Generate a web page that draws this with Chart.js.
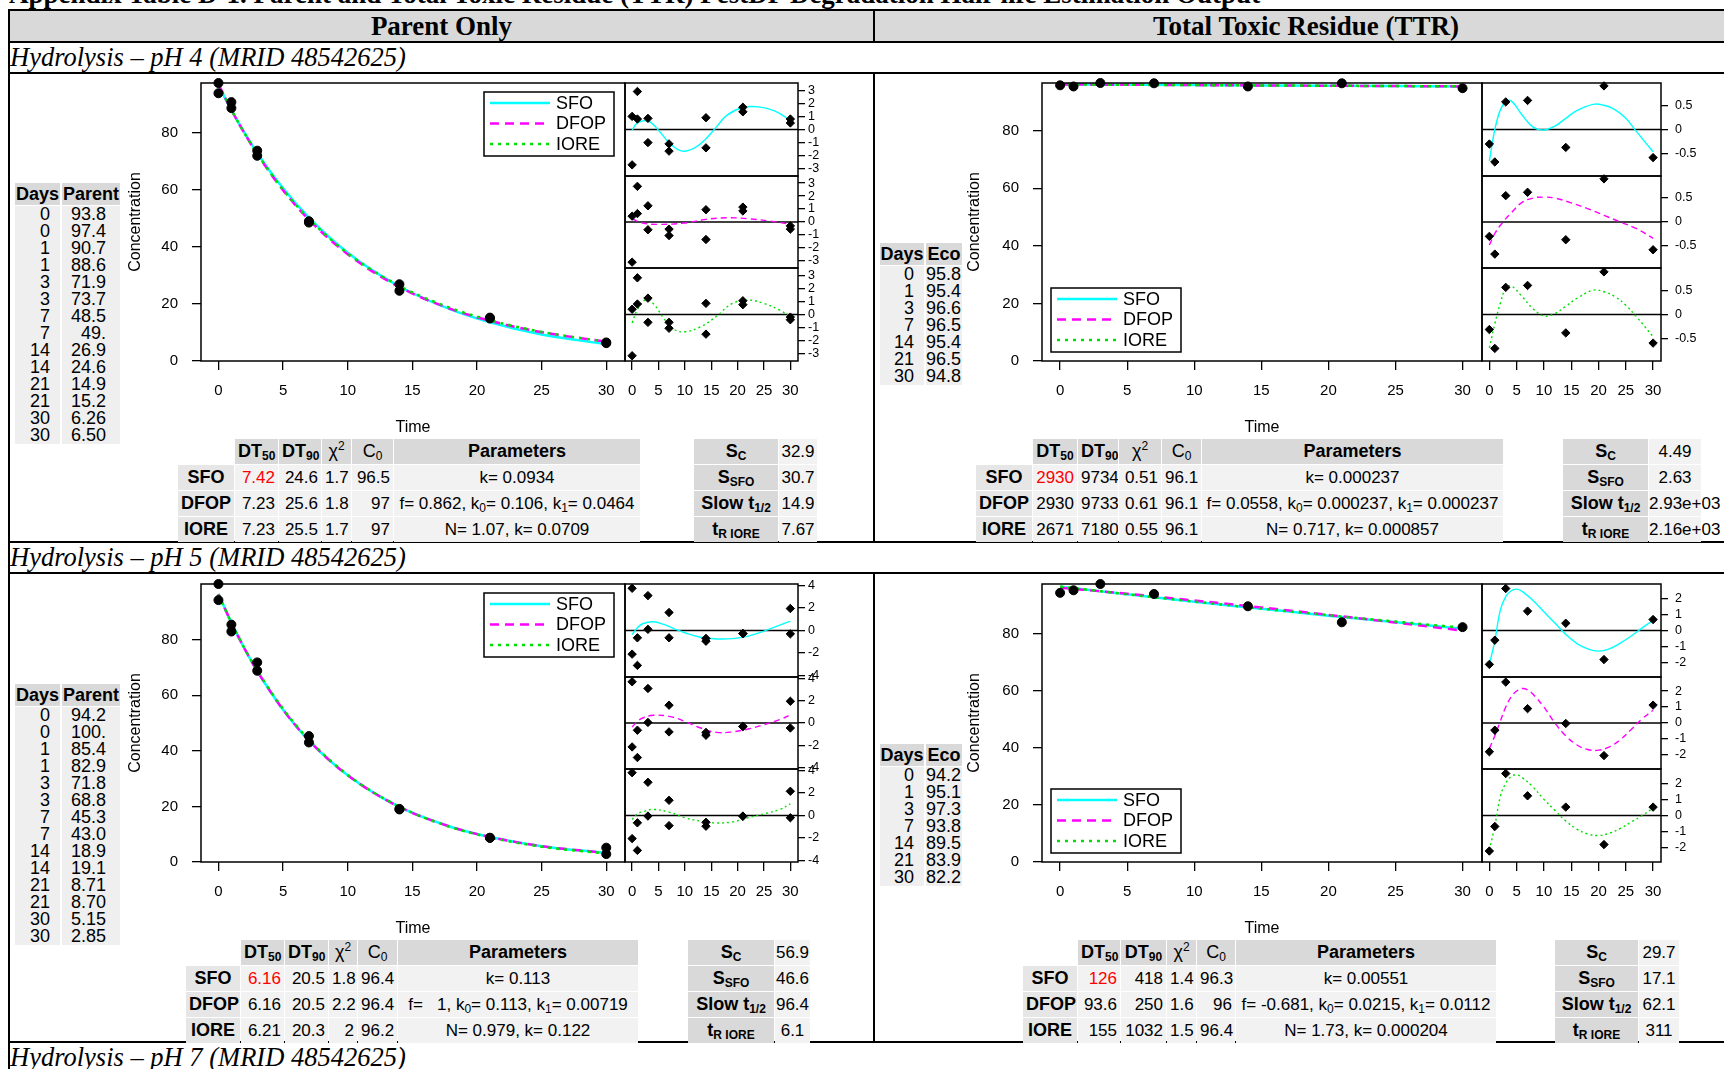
<!DOCTYPE html>
<html>
<head>
<meta charset="utf-8">
<title>Parent and TTR degradation half-life output</title>
<script src="https://cdn.jsdelivr.net/npm/chart.js@4.4.1/dist/chart.umd.min.js"></script>
<style>
  html, body { margin: 0; padding: 0; background: #fff; }
  #page { position: relative; width: 1724px; height: 1069px; overflow: hidden; font-family: "Liberation Sans", Arial, sans-serif; color: #000; }
  .rule { position: absolute; background: #000; }
  .band { position: absolute; background: #d9d9d9; }
  .serif { position: absolute; font-family: "Liberation Serif", "Times New Roman", serif; white-space: nowrap; }
  .doc-title { left: 9px; top: -19px; font-size: 27px; font-weight: bold; line-height: 27px; }
  .col-head { top: 11px; height: 30px; line-height: 30px; font-size: 27px; font-weight: bold; text-align: center; }
  .study { left: 10px; height: 29px; font-size: 26.5px; font-style: italic; line-height: 29px; }
  .cell { position: absolute; box-sizing: border-box; white-space: nowrap; }
  .dhead { background: #d9d9d9; font-weight: bold; font-size: 18px; line-height: 22px; height: 22px; text-align: center; }
  .dbody { background: #efefef; font-size: 18px; line-height: 17px; text-align: right; }
  table.stats { position: absolute; border-collapse: separate; border-spacing: 1px; table-layout: fixed; font-size: 17px; }
  table.stats th, table.stats td { height: 25px; padding: 0 3px; white-space: nowrap; overflow: hidden; box-sizing: border-box; }
  table.stats th { background: #d9d9d9; font-size: 18px; font-weight: bold; text-align: center; }
  table.stats th.model { background: #e6e6e6; }
  table.stats th.thin { font-weight: normal; }
  table.stats td { background: #f2f2f2; text-align: right; }
  table.stats td.par { text-align: center; padding: 0 1px; }
  table.stats td.ctr { text-align: center; padding: 0; overflow: visible; }
  table.stats td.blank { background: transparent; }
  table.stats .red { color: #ff0000; }
  table.stats sub { font-size: 12px; vertical-align: -3px; line-height: 0; }
  table.stats sup { font-size: 12px; vertical-align: 7px; line-height: 0; }
  canvas { position: absolute; }
</style>
</head>
<body>
<div id="page"></div>
<script>
// ---------------------------------------------------------------------------
// Data
// ---------------------------------------------------------------------------

const X_MIN = -1.35, X_MAX = 31.45;
const timeTicks = [0, 5, 10, 15, 20, 25, 30];
const concTicks = [0, 20, 40, 60, 80];

// pH 4, parent
const ph4ParentDays = [0, 0, 1, 1, 3, 3, 7, 7, 14, 14, 21, 21, 30, 30];
const ph4ParentConc = ['93.8', '97.4', '90.7', '88.6', '71.9', '73.7', '48.5', '49.', '26.9', '24.6', '14.9', '15.2', '6.26', '6.50'];
const ph4ParentFitX = [0, 1, 2, 3, 5, 7, 10, 14, 18, 21, 25, 30];
const ph4ParentSFO = [96.5, 87.9, 80.1, 72.9, 60.5, 50.2, 37.9, 26.1, 18.0, 13.6, 9.3, 5.9];
const ph4ParentDFOP = [97, 88.0, 79.9, 72.5, 59.8, 49.5, 37.4, 25.9, 18.2, 14.1, 10.1, 6.8];
const ph4ParentIORE = [97, 88.0, 79.9, 72.6, 60.0, 49.8, 37.7, 26.3, 18.5, 14.3, 10.2, 6.75];
const ph4ParentResSFO = [-2.7, 1.0, 2.9, 0.8, -1.0, 0.85, -1.65, -1.1, 0.9, -1.4, 1.35, 1.7, 0.5, 0.8];
const ph4ParentResDFOP = [-3.1, 0.45, 2.75, 0.65, -0.6, 1.25, -1.05, -0.55, 0.95, -1.35, 0.85, 1.15, -0.55, -0.3];
const ph4ParentResIORE = [-3.15, 0.4, 2.8, 0.8, -0.6, 1.25, -1.05, -0.6, 0.85, -1.5, 0.75, 1.05, -0.4, -0.2];
const ph4ParentSmSFOx = [0, 1, 3, 5, 7, 9.5, 12, 14, 16, 18, 21, 24, 27, 30];
const ph4ParentSmSFOy = [-0.05, 0.5, 0.65, -0.05, -1.0, -1.65, -1.37, -0.7, 0.2, 1.1, 1.68, 1.73, 1.43, 0.7];
const ph4ParentSmDFOPx = [0, 2, 5, 10, 14, 18, 22, 26, 30];
const ph4ParentSmDFOPy = [0.25, -0.08, -0.18, -0.08, 0.2, 0.33, 0.25, 0.08, -0.18];
const ph4ParentSmIOREx = [0, 1, 2.5, 4, 6, 8, 10, 13, 16, 19, 22, 25, 28, 30];
const ph4ParentSmIOREy = [-0.64, 0.38, 1.1, 0.84, -0.3, -1.15, -1.32, -0.94, -0.13, 0.84, 1.1, 0.84, 0.33, -0.18];
const ph4ParentStats = [
  ['7.42', '24.6', '1.7', '96.5', 'k= 0.0934'],
  ['7.23', '25.6', '1.8', '97', 'f= 0.862, k<sub>0</sub>= 0.106, k<sub>1</sub>= 0.0464'],
  ['7.23', '25.5', '1.7', '97', 'N= 1.07, k= 0.0709']
];
const ph4ParentExtra = ['32.9', '30.7', '14.9', '7.67'];

// pH 4, total toxic residue
const ph4TtrDays = [0, 1, 3, 7, 14, 21, 30];
const ph4TtrConc = ['95.8', '95.4', '96.6', '96.5', '95.4', '96.5', '94.8'];
const ph4TtrFitX = [0, 10, 20, 30];
const ph4TtrSFO = [96.1, 95.87, 95.65, 95.42];
const ph4TtrDFOP = [96.1, 95.87, 95.65, 95.42];
const ph4TtrIORE = [96.1, 95.87, 95.65, 95.42];
const ph4TtrResSFO = [-0.3, -0.67, 0.57, 0.6, -0.37, 0.9, -0.58];
const ph4TtrResDFOP = [-0.3, -0.67, 0.55, 0.62, -0.37, 0.9, -0.58];
const ph4TtrResIORE = [-0.31, -0.7, 0.56, 0.6, -0.38, 0.88, -0.59];
const ph4TtrSmSFOx = [0, 1, 2, 3, 4, 6, 8, 10, 12, 14, 16, 19, 21, 23, 25, 27, 30];
const ph4TtrSmSFOy = [-0.65, 0, 0.4, 0.57, 0.59, 0.3, 0.05, -0.01, 0.07, 0.23, 0.39, 0.52, 0.5, 0.41, 0.23, -0.05, -0.46];
const ph4TtrSmDFOPx = [0, 1, 2.5, 4, 6, 8, 10, 12, 15, 18, 21, 24, 27, 30];
const ph4TtrSmDFOPy = [-0.48, -0.24, 0, 0.19, 0.41, 0.5, 0.52, 0.5, 0.4, 0.28, 0.14, 0, -0.14, -0.34];
const ph4TtrSmIOREx = [0, 1, 2, 3, 4, 6, 8, 10, 12, 14, 16, 19, 21, 23, 25, 27, 30];
const ph4TtrSmIOREy = [-0.69, -0.19, 0.23, 0.54, 0.59, 0.37, 0.12, -0.03, 0.02, 0.17, 0.33, 0.5, 0.47, 0.37, 0.19, -0.05, -0.46];
const ph4TtrStats = [
  ['2930', '9734', '0.51', '96.1', 'k= 0.000237'],
  ['2930', '9733', '0.61', '96.1', 'f= 0.0558, k<sub>0</sub>= 0.000237, k<sub>1</sub>= 0.000237'],
  ['2671', '7180', '0.55', '96.1', 'N= 0.717, k= 0.000857']
];
const ph4TtrExtra = ['4.49', '2.63', '2.93e+03', '2.16e+03'];

// pH 5, parent
const ph5ParentDays = [0, 0, 1, 1, 3, 3, 7, 7, 14, 14, 21, 21, 30, 30];
const ph5ParentConc = ['94.2', '100.', '85.4', '82.9', '71.8', '68.8', '45.3', '43.0', '18.9', '19.1', '8.71', '8.70', '5.15', '2.85'];
const ph5ParentFitX = [0, 1, 2, 3, 5, 7, 10, 14, 18, 21, 25, 30];
const ph5ParentSFO = [96.4, 86.1, 76.9, 68.7, 54.8, 43.7, 31.2, 19.8, 12.6, 9.0, 5.7, 3.25];
const ph5ParentDFOP = [96.4, 86.1, 76.9, 68.7, 54.8, 43.7, 31.2, 19.8, 12.6, 9.0, 5.7, 3.25];
const ph5ParentIORE = [96.2, 86.1, 77.0, 68.9, 55.1, 44.0, 31.3, 19.9, 12.5, 8.85, 5.5, 3.06];
const ph5ParentResSFO = [-2.1, 3.75, -0.65, -3.1, 3.1, 0.1, 1.6, -0.65, -0.95, -0.7, -0.27, -0.28, 1.95, -0.3];
const ph5ParentResDFOP = [-2.15, 3.7, -0.65, -3.1, 3.1, 0.05, 1.6, -0.8, -1.1, -0.85, -0.3, -0.32, 1.95, -0.45];
const ph5ParentResIORE = [-2.05, 3.8, -0.65, -3.1, 2.95, -0.05, 1.35, -0.9, -0.95, -0.6, -0.05, -0.07, 2.15, -0.2];
const ph5ParentSmSFOx = [0, 1, 2, 4, 6, 8, 10, 13, 16, 19, 22, 25, 28, 30];
const ph5ParentSmSFOy = [-0.36, 0.24, 0.6, 0.78, 0.54, 0.15, -0.2, -0.6, -0.75, -0.72, -0.5, -0.06, 0.48, 0.84];
const ph5ParentSmDFOPx = [0, 1, 2, 4, 7, 10, 13, 16, 19, 22, 25, 28, 30];
const ph5ParentSmDFOPy = [-0.36, 0.15, 0.45, 0.69, 0.6, 0.15, -0.45, -0.84, -0.8, -0.54, -0.15, 0.3, 0.75];
const ph5ParentSmIOREx = [0, 1, 2, 4, 7, 10, 13, 16, 19, 22, 25, 28, 30];
const ph5ParentSmIOREy = [-0.36, 0.15, 0.33, 0.54, 0.3, -0.2, -0.5, -0.66, -0.57, -0.2, 0.15, 0.54, 1.04];
const ph5ParentStats = [
  ['6.16', '20.5', '1.8', '96.4', 'k= 0.113'],
  ['6.16', '20.5', '2.2', '96.4', 'f= &nbsp; 1, k<sub>0</sub>= 0.113, k<sub>1</sub>= 0.00719'],
  ['6.21', '20.3', '2', '96.2', 'N= 0.979, k= 0.122']
];
const ph5ParentExtra = ['56.9', '46.6', '96.4', '6.1'];

// pH 5, total toxic residue
const ph5TtrDays = [0, 1, 3, 7, 14, 21, 30];
const ph5TtrConc = ['94.2', '95.1', '97.3', '93.8', '89.5', '83.9', '82.2'];
const ph5TtrFitX = [0, 5, 10, 15, 20, 25, 30];
const ph5TtrSFO = [96.3, 93.7, 91.1, 88.65, 86.2, 83.9, 81.6];
const ph5TtrDFOP = [96, 93.9, 91.5, 89.1, 86.5, 83.8, 81.0];
const ph5TtrIORE = [96.4, 93.7, 91.15, 88.7, 86.4, 84.15, 82.0];
const ph5TtrResSFO = [-2.1, -0.6, 2.6, 1.2, 0.45, -1.8, 0.68];
const ph5TtrResDFOP = [-1.8, -0.45, 2.56, 0.9, -0.03, -2.04, 1.12];
const ph5TtrResIORE = [-2.2, -0.68, 2.6, 1.22, 0.52, -1.8, 0.52];
const ph5TtrSmSFOx = [0, 1, 2, 3, 4, 5, 6, 8, 10, 12, 14, 16, 18, 20, 22, 24, 26, 28, 30];
const ph5TtrSmSFOy = [-2.1, -0.64, 1.26, 2.1, 2.46, 2.56, 2.42, 1.86, 1.16, 0.46, -0.24, -0.8, -1.14, -1.28, -1.14, -0.78, -0.34, 0.16, 0.62];
const ph5TtrSmDFOPx = [0, 1, 2, 3, 4, 5, 6, 7, 8, 10, 12, 14, 16, 18, 20, 22, 24, 26, 28, 30];
const ph5TtrSmDFOPy = [-1.6, -0.8, 0.1, 1.0, 1.64, 2.0, 2.16, 2.08, 1.8, 1.0, 0, -0.8, -1.36, -1.66, -1.7, -1.5, -1.04, -0.4, 0.26, 0.8];
const ph5TtrSmIOREx = [0, 1, 2, 3, 4, 5, 6, 8, 10, 12, 14, 16, 18, 20, 22, 24, 26, 28, 30];
const ph5TtrSmIOREy = [-2.14, -0.64, 1.16, 2.0, 2.42, 2.52, 2.36, 1.76, 1.0, 0.32, -0.34, -0.84, -1.14, -1.24, -1.1, -0.8, -0.4, 0, 0.46];
const ph5TtrStats = [
  ['126', '418', '1.4', '96.3', 'k= 0.00551'],
  ['93.6', '250', '1.6', '96', 'f= -0.681, k<sub>0</sub>= 0.0215, k<sub>1</sub>= 0.0112'],
  ['155', '1032', '1.5', '96.4', 'N= 1.73, k= 0.000204']
];
const ph5TtrExtra = ['29.7', '17.1', '62.1', '311'];

const modelNames = ['SFO', 'DFOP', 'IORE'];
const statHead = ['DT<sub>50</sub>', 'DT<sub>90</sub>', '&chi;<sup>2</sup>', 'C<sub>0</sub>', 'Parameters'];
const extraHead = ['S<sub>C</sub>', 'S<sub>SFO</sub>', 'Slow t<sub>1/2</sub>', 't<sub>R IORE</sub>'];

const CYAN = '#00ffff', MAGENTA = '#ff00ff', GREEN = '#00e000';

// ---------------------------------------------------------------------------
// Page frame: title, column heads, study rows, rules
// ---------------------------------------------------------------------------

const page = document.getElementById('page');

function add(tag, cls, css, html) {
  const el = document.createElement(tag);
  if (cls) el.className = cls;
  if (css) el.style.cssText = css;
  if (html !== undefined) el.innerHTML = html;
  page.appendChild(el);
  return el;
}

add('div', 'serif doc-title', '', 'Appendix Table D-1. Parent and Total Toxic Residue (TTR) PestDF Degradation Half-life Estimation Output');
add('div', 'band', 'left:10px;top:11px;width:1714px;height:30px');
add('div', 'serif col-head', 'left:10px;width:863px', 'Parent Only');
add('div', 'serif col-head', 'left:875px;width:862px', 'Total Toxic Residue (TTR)');
add('div', 'serif study', 'top:43px', 'Hydrolysis &ndash; pH 4 (MRID 48542625)');
add('div', 'serif study', 'top:543px', 'Hydrolysis &ndash; pH 5 (MRID 48542625)');
add('div', 'serif study', 'top:1043px', 'Hydrolysis &ndash; pH 7 (MRID 48542625)');

[9, 41, 72, 541, 572, 1041].forEach(y => add('div', 'rule', `left:8px;top:${y}px;width:1716px;height:2px`));
add('div', 'rule', 'left:8px;top:9px;width:2px;height:1060px');
[[9, 34], [72, 471], [572, 471]].forEach(([y, h]) => add('div', 'rule', `left:873px;top:${y}px;width:2px;height:${h}px`));

// ---------------------------------------------------------------------------
// Observation tables (Days / value) and fit statistics tables
// ---------------------------------------------------------------------------

function obsTable(x, y, widths, head, days, conc, padR) {
  add('div', 'cell dhead', `left:${x}px;top:${y}px;width:${widths[0]}px`, 'Days');
  add('div', 'cell dhead', `left:${x + widths[0] + 2}px;top:${y}px;width:${widths[1]}px`, head);
  const h = days.length * 17;
  add('div', 'cell dbody', `left:${x}px;top:${y + 23}px;width:${widths[0]}px;height:${h}px;padding-right:10px`, days.join('<br>'));
  add('div', 'cell dbody', `left:${x + widths[0] + 2}px;top:${y + 23}px;width:${widths[1]}px;height:${h}px;padding-right:${padR}px`, conc.join('<br>'));
}

function statsTable(x, y, cols, rows) {
  const t = add('table', 'stats', `left:${x}px;top:${y}px;width:${cols.reduce((a, b) => a + b, 0) + cols.length + 1}px`);
  let html = '<colgroup>' + cols.map(w => `<col style="width:${w}px">`).join('') + '</colgroup>';
  html += '<tr><td class="blank"></td>' + statHead.map((h, i) => `<th class="${i === 2 || i === 3 ? 'thin' : ''}">${h}</th>`).join('') + '</tr>';
  rows.forEach((r, i) => {
    html += `<tr><th class="model">${modelNames[i]}</th>` +
      r.map((v, j) => `<td class="${j === 4 ? 'par' : ''}${i === 0 && j === 0 ? ' red' : ''}">${v}</td>`).join('') + '</tr>';
  });
  t.innerHTML = html;
}

function extraTable(x, y, cols, vals) {
  const t = add('table', 'stats', `left:${x}px;top:${y}px;width:${cols[0] + cols[1] + 3}px`);
  let html = '<colgroup>' + cols.map(w => `<col style="width:${w}px">`).join('') + '</colgroup>';
  vals.forEach((v, i) => { html += `<tr><th>${extraHead[i]}</th><td class="ctr">${v}</td></tr>`; });
  t.innerHTML = html;
}

obsTable(15, 183, [45, 58], 'Parent', ph4ParentDays, ph4ParentConc, 14);
obsTable(880, 243, [44, 36], 'Eco', ph4TtrDays, ph4TtrConc, 1);
obsTable(15, 684, [45, 58], 'Parent', ph5ParentDays, ph5ParentConc, 14);
obsTable(880, 744, [44, 36], 'Eco', ph5TtrDays, ph5TtrConc, 1);

statsTable(177, 438, [56, 43, 42, 29, 41, 246], ph4ParentStats);
extraTable(693, 438, [84, 38], ph4ParentExtra);
statsTable(975, 438, [56, 44, 40, 42, 39, 301], ph4TtrStats);
extraTable(1562, 438, [85, 52], ph4TtrExtra);
statsTable(185, 939, [54, 43, 43, 28, 39, 240], ph5ParentStats);
extraTable(687, 939, [86, 35], ph5ParentExtra);
statsTable(1022, 939, [54, 42, 45, 29, 38, 260], ph5TtrStats);
extraTable(1554, 939, [83, 40], ph5TtrExtra);

// ---------------------------------------------------------------------------
// Charts
// ---------------------------------------------------------------------------

Chart.defaults.font.family = '"Liberation Sans", Arial, sans-serif';
Chart.defaults.color = '#000';
Chart.defaults.animation = false;
Chart.defaults.responsive = false;
Chart.defaults.plugins.legend.display = false;
Chart.defaults.plugins.tooltip.enabled = false;

// box round the plot region, plus the zero reference line for residual panels
const frame = {
  id: 'frame',
  beforeDatasetsDraw(chart, args, opts) {
    if (!opts.zero) return;
    const { ctx, chartArea: a, scales: { y } } = chart;
    const py = y.getPixelForValue(0);
    ctx.save();
    ctx.strokeStyle = '#000';
    ctx.lineWidth = 1.3;
    ctx.beginPath();
    ctx.moveTo(a.left, py);
    ctx.lineTo(a.right, py);
    ctx.stroke();
    ctx.restore();
  },
  afterDatasetsDraw(chart) {
    const { ctx, chartArea: a } = chart;
    ctx.save();
    ctx.strokeStyle = '#000';
    ctx.lineWidth = 1.5;
    ctx.strokeRect(a.left, a.top, a.right - a.left, a.bottom - a.top);
    ctx.restore();
  }
};

// boxed legend sitting inside the plot region
const insetLegend = {
  id: 'insetLegend',
  afterDraw(chart, args, opts) {
    if (!opts.corner) return;
    const { ctx, chartArea: a } = chart;
    const w = 130, h = 64;
    const x = opts.corner === 'topright' ? a.right - 11 - w : a.left + 9;
    const y = opts.corner === 'topright' ? a.top + 9 : a.bottom - 9 - h;
    ctx.save();
    ctx.fillStyle = '#fff';
    ctx.fillRect(x, y, w, h);
    ctx.strokeStyle = '#000';
    ctx.lineWidth = 1.5;
    ctx.strokeRect(x, y, w, h);
    ctx.font = '18px "Liberation Sans", Arial, sans-serif';
    ctx.textBaseline = 'middle';
    chart.data.datasets.filter(d => d.label).forEach((d, i) => {
      const ly = y + 11 + i * 20.5;
      ctx.strokeStyle = d.borderColor;
      ctx.lineWidth = 2.5;
      ctx.setLineDash(d.borderDash || []);
      ctx.beginPath();
      ctx.moveTo(x + 6, ly);
      ctx.lineTo(x + 66, ly);
      ctx.stroke();
      ctx.setLineDash([]);
      ctx.fillStyle = '#000';
      ctx.fillText(d.label, x + 72, ly + 1);
    });
    ctx.restore();
  }
};

function canvasAt(left, top, w, h) {
  const c = add('canvas', '', `left:${left}px;top:${top}px;width:${w}px;height:${h}px`);
  c.width = w;
  c.height = h;
  return c;
}

function xy(xs, ys) {
  return xs.map((x, i) => ({ x, y: ys[i] }));
}

function tickGrid(len) {
  return { display: true, drawOnChartArea: false, drawTicks: true, tickLength: len, color: '#000', lineWidth: 1.3 };
}

function fixedTicks(vals) {
  return s => { s.ticks = vals.map(v => ({ value: v })); };
}

// pin an axis to a set thickness and stop its label overhang from pushing the plot region
function pinAxis(size) {
  return s => {
    if (s.isHorizontal()) s.height = size; else s.width = size;
    s.paddingTop = s.paddingBottom = s.paddingLeft = s.paddingRight = 0;
  };
}

const plainLabel = v => String(v);

function mainPlot(p) {
  const top = p.boxT - 13, bottom = p.boxB + 84;
  const cv = canvasAt(p.canvasL, top, p.boxR + 6 - p.canvasL, bottom - top);
  const fit = (label, ys, color, dash, order) => ({
    label, data: xy(p.fitX, ys), showLine: true, borderColor: color, borderWidth: 2.5,
    borderDash: dash, pointRadius: 0, cubicInterpolationMode: 'monotone', order
  });
  new Chart(cv, {
    type: 'scatter',
    data: {
      datasets: [
        fit('SFO', p.fits[0], CYAN, [], 3),
        fit('DFOP', p.fits[1], MAGENTA, [9, 6], 2),
        fit('IORE', p.fits[2], GREEN, [3, 5], 1),
        {
          data: xy(p.days, p.conc.map(Number)), pointStyle: 'circle', pointRadius: 4.5,
          backgroundColor: '#000', borderColor: '#000', order: 0, clip: false
        }
      ]
    },
    options: {
      layout: { padding: { top: 13, right: 6, bottom: 0, left: 0 } },
      scales: {
        x: {
          type: 'linear', min: X_MIN, max: X_MAX,
          afterBuildTicks: fixedTicks(timeTicks), afterFit: pinAxis(84),
          grid: tickGrid(9), border: { display: false },
          ticks: { font: { size: 15 }, padding: 12, autoSkip: false, maxRotation: 0, callback: plainLabel },
          title: { display: true, text: 'Time', font: { size: 16 }, padding: { top: 0, bottom: 8 } }
        },
        y: {
          min: 0, max: p.ymax,
          afterBuildTicks: fixedTicks(concTicks), afterFit: pinAxis(p.boxL - p.canvasL),
          grid: tickGrid(9), border: { display: false },
          ticks: { font: { size: 15 }, padding: 14, autoSkip: false, callback: plainLabel },
          title: { display: true, text: 'Concentration', font: { size: 16 }, padding: { top: p.titleX - p.canvasL - 10, bottom: 0 } }
        }
      },
      plugins: { frame: {}, insetLegend: { corner: p.corner } }
    },
    plugins: [frame, insetLegend]
  });
}

// three stacked residual panels (SFO, DFOP, IORE) sharing one time axis
function residPlot(p) {
  const styles = [[CYAN, []], [MAGENTA, [6, 4]], [GREEN, [2, 3]]];
  for (let i = 0; i < 3; i++) {
    const last = i === 2;
    const top = p.edges[i] - 10, bottom = p.edges[i + 1] + (last ? 49 : 10);
    const cv = canvasAt(p.boxL - 6, top, p.canvasR - p.boxL + 6, bottom - top);
    const m = p.models[i];
    new Chart(cv, {
      type: 'scatter',
      data: {
        datasets: [
          {
            data: xy(p.days, m.res), pointStyle: 'rectRot', pointRadius: 4.2,
            backgroundColor: '#000', borderColor: '#000', clip: false, order: 0
          },
          {
            data: xy(m.cx, m.cy), showLine: true, pointRadius: 0, borderColor: styles[i][0],
            borderDash: styles[i][1], borderWidth: 1.4, tension: 0.4, order: 1
          }
        ]
      },
      options: {
        layout: { padding: { top: 10, right: 0, bottom: last ? 0 : 10, left: 6 } },
        scales: {
          x: {
            type: 'linear', display: last, min: X_MIN, max: X_MAX,
            afterBuildTicks: fixedTicks(timeTicks), afterFit: pinAxis(last ? 49 : 0),
            grid: tickGrid(9), border: { display: false },
            ticks: { font: { size: 15 }, padding: 12, autoSkip: false, maxRotation: 0, callback: plainLabel }
          },
          y: {
            position: 'right', min: -p.lim, max: p.lim,
            afterBuildTicks: fixedTicks(p.ticks), afterFit: pinAxis(p.canvasR - p.boxR),
            grid: tickGrid(7), border: { display: false },
            ticks: { font: { size: 12.5 }, padding: p.labelGap, crossAlign: 'near', autoSkip: false, callback: plainLabel }
          }
        },
        plugins: { frame: { zero: true } }
      },
      plugins: [frame]
    });
  }
}

[0, 501].forEach((dy, k) => {
  const ph4 = k === 0;
  mainPlot({
    boxL: 201, boxR: 625, boxT: 83 + dy, boxB: 361 + dy, canvasL: 112, titleX: 136,
    days: ph4 ? ph4ParentDays : ph5ParentDays,
    conc: ph4 ? ph4ParentConc : ph5ParentConc,
    fitX: ph4 ? ph4ParentFitX : ph5ParentFitX,
    fits: ph4 ? [ph4ParentSFO, ph4ParentDFOP, ph4ParentIORE] : [ph5ParentSFO, ph5ParentDFOP, ph5ParentIORE],
    ymax: ph4 ? 97.4 : 100, corner: 'topright'
  });
  mainPlot({
    boxL: 1042, boxR: 1482, boxT: 83 + dy, boxB: 361 + dy, canvasL: 950, titleX: 975,
    days: ph4 ? ph4TtrDays : ph5TtrDays,
    conc: ph4 ? ph4TtrConc : ph5TtrConc,
    fitX: ph4 ? ph4TtrFitX : ph5TtrFitX,
    fits: ph4 ? [ph4TtrSFO, ph4TtrDFOP, ph4TtrIORE] : [ph5TtrSFO, ph5TtrDFOP, ph5TtrIORE],
    ymax: ph4 ? 96.6 : 97.3, corner: 'bottomleft'
  });
});

const residEdges = dy => [83 + dy, 176 + dy, 268 + dy, 361 + dy];

residPlot({
  boxL: 625, boxR: 798, canvasR: 850, labelGap: 3, edges: residEdges(0), lim: 3.55, ticks: [-3, -2, -1, 0, 1, 2, 3],
  days: ph4ParentDays,
  models: [
    { res: ph4ParentResSFO, cx: ph4ParentSmSFOx, cy: ph4ParentSmSFOy },
    { res: ph4ParentResDFOP, cx: ph4ParentSmDFOPx, cy: ph4ParentSmDFOPy },
    { res: ph4ParentResIORE, cx: ph4ParentSmIOREx, cy: ph4ParentSmIOREy }
  ]
});
residPlot({
  boxL: 1482, boxR: 1661, canvasR: 1724, labelGap: 7, edges: residEdges(0), lim: 0.96, ticks: [-0.5, 0, 0.5],
  days: ph4TtrDays,
  models: [
    { res: ph4TtrResSFO, cx: ph4TtrSmSFOx, cy: ph4TtrSmSFOy },
    { res: ph4TtrResDFOP, cx: ph4TtrSmDFOPx, cy: ph4TtrSmDFOPy },
    { res: ph4TtrResIORE, cx: ph4TtrSmIOREx, cy: ph4TtrSmIOREy }
  ]
});
residPlot({
  boxL: 625, boxR: 798, canvasR: 850, labelGap: 3, edges: residEdges(501), lim: 4.13, ticks: [-4, -2, 0, 2, 4],
  days: ph5ParentDays,
  models: [
    { res: ph5ParentResSFO, cx: ph5ParentSmSFOx, cy: ph5ParentSmSFOy },
    { res: ph5ParentResDFOP, cx: ph5ParentSmDFOPx, cy: ph5ParentSmDFOPy },
    { res: ph5ParentResIORE, cx: ph5ParentSmIOREx, cy: ph5ParentSmIOREy }
  ]
});
residPlot({
  boxL: 1482, boxR: 1661, canvasR: 1724, labelGap: 7, edges: residEdges(501), lim: 2.88, ticks: [-2, -1, 0, 1, 2],
  days: ph5TtrDays,
  models: [
    { res: ph5TtrResSFO, cx: ph5TtrSmSFOx, cy: ph5TtrSmSFOy },
    { res: ph5TtrResDFOP, cx: ph5TtrSmDFOPx, cy: ph5TtrSmDFOPy },
    { res: ph5TtrResIORE, cx: ph5TtrSmIOREx, cy: ph5TtrSmIOREy }
  ]
});
</script>
</body>
</html>
